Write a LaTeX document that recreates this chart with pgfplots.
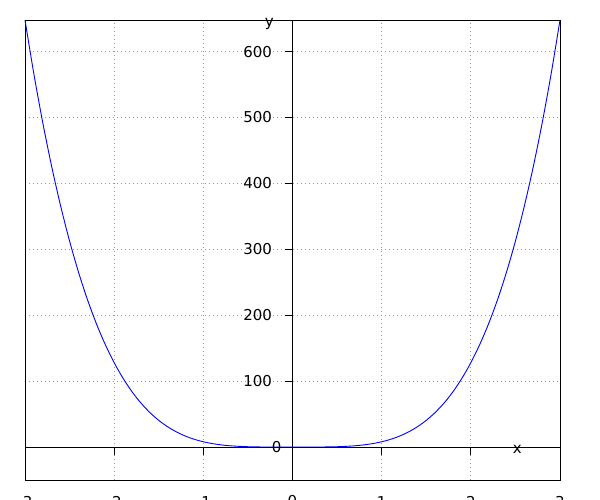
\documentclass[border=0pt]{standalone}
\usepackage{pgfplots}
\pgfplotsset{compat=1.18}
\usepackage{fontspec}
\setmainfont{DejaVu Sans}
\begin{document}
\begin{tikzpicture}[x=1pt,y=1pt]
\path[use as bounding box] (0,0) rectangle (600,500);
\begin{axis}[
  at={(25pt,20pt)}, anchor=south west,
  scale only axis, width=535pt, height=460pt,
  xmin=-3, xmax=3, ymin=-50, ymax=648,
  axis lines=middle,
  axis line style={-, line width=0.8pt},
  xtick={-3,-2,-1,0,1,2,3},
  ytick={0,100,200,300,400,500,600},
  tick align=outside,
  major tick length=8pt,
  tick style={black, line width=0.8pt},
  grid=major,
  grid style={gray!80, dash pattern=on 0.8pt off 3.2pt, line width=0.8pt},
  /pgf/number format/assume math mode=true,
  tick label style={font=\fontsize{15}{18}\selectfont},
  xticklabel style={anchor=north, yshift=-38pt},
  yticklabel style={anchor=east, xshift=-9pt},
  clip=false,
]
\draw[line width=0.8pt] (rel axis cs:0,0) rectangle (rel axis cs:1,1);
\addplot[blue, line width=0.9pt, smooth] coordinates {
(-3.0,648) (-2.9,565.82) (-2.8,491.72) (-2.7,425.15) (-2.6,365.58) (-2.5,312.5)
(-2.4,265.42) (-2.3,223.87) (-2.2,187.40) (-2.1,155.58) (-2.0,128)
(-1.9,104.26) (-1.8,83.98) (-1.7,66.82) (-1.6,52.43) (-1.5,40.5)
(-1.4,30.73) (-1.3,22.85) (-1.2,16.59) (-1.1,11.71) (-1.0,8)
(-0.9,5.25) (-0.8,3.28) (-0.7,1.92) (-0.6,1.04) (-0.5,0.5)
(-0.4,0.20) (-0.3,0.06) (-0.2,0.01) (-0.1,0.0008) (0,0)
(0.1,0.0008) (0.2,0.01) (0.3,0.06) (0.4,0.20) (0.5,0.5)
(0.6,1.04) (0.7,1.92) (0.8,3.28) (0.9,5.25) (1.0,8)
(1.1,11.71) (1.2,16.59) (1.3,22.85) (1.4,30.73) (1.5,40.5)
(1.6,52.43) (1.7,66.82) (1.8,83.98) (1.9,104.26) (2.0,128)
(2.1,155.58) (2.2,187.40) (2.3,223.87) (2.4,265.42) (2.5,312.5)
(2.6,365.58) (2.7,425.15) (2.8,491.72) (2.9,565.82) (3.0,648)
};
\draw[line width=0.8pt] ([xshift=-8pt]axis cs:0,100) -- (axis cs:0,100);
\draw[line width=0.8pt] ([xshift=-8pt]axis cs:0,200) -- (axis cs:0,200);
\draw[line width=0.8pt] ([xshift=-8pt]axis cs:0,300) -- (axis cs:0,300);
\draw[line width=0.8pt] ([xshift=-8pt]axis cs:0,400) -- (axis cs:0,400);
\draw[line width=0.8pt] ([xshift=-8pt]axis cs:0,500) -- (axis cs:0,500);
\draw[line width=0.8pt] ([xshift=-8pt]axis cs:0,600) -- (axis cs:0,600);
\node[font=\fontsize{15}{18}\selectfont] at (axis cs:2.52,-4) {x};
\node[font=\fontsize{15}{18}\selectfont] at (axis cs:-0.26,642) {y};
\node[font=\fontsize{15}{18}\selectfont, anchor=east, inner sep=0pt] at ([xshift=-11pt]axis cs:0,0) {0};
\node[font=\fontsize{15}{18}\selectfont, anchor=north] at ([yshift=-45pt]axis cs:0,0) {0};
\end{axis}
\end{tikzpicture}
\end{document}
